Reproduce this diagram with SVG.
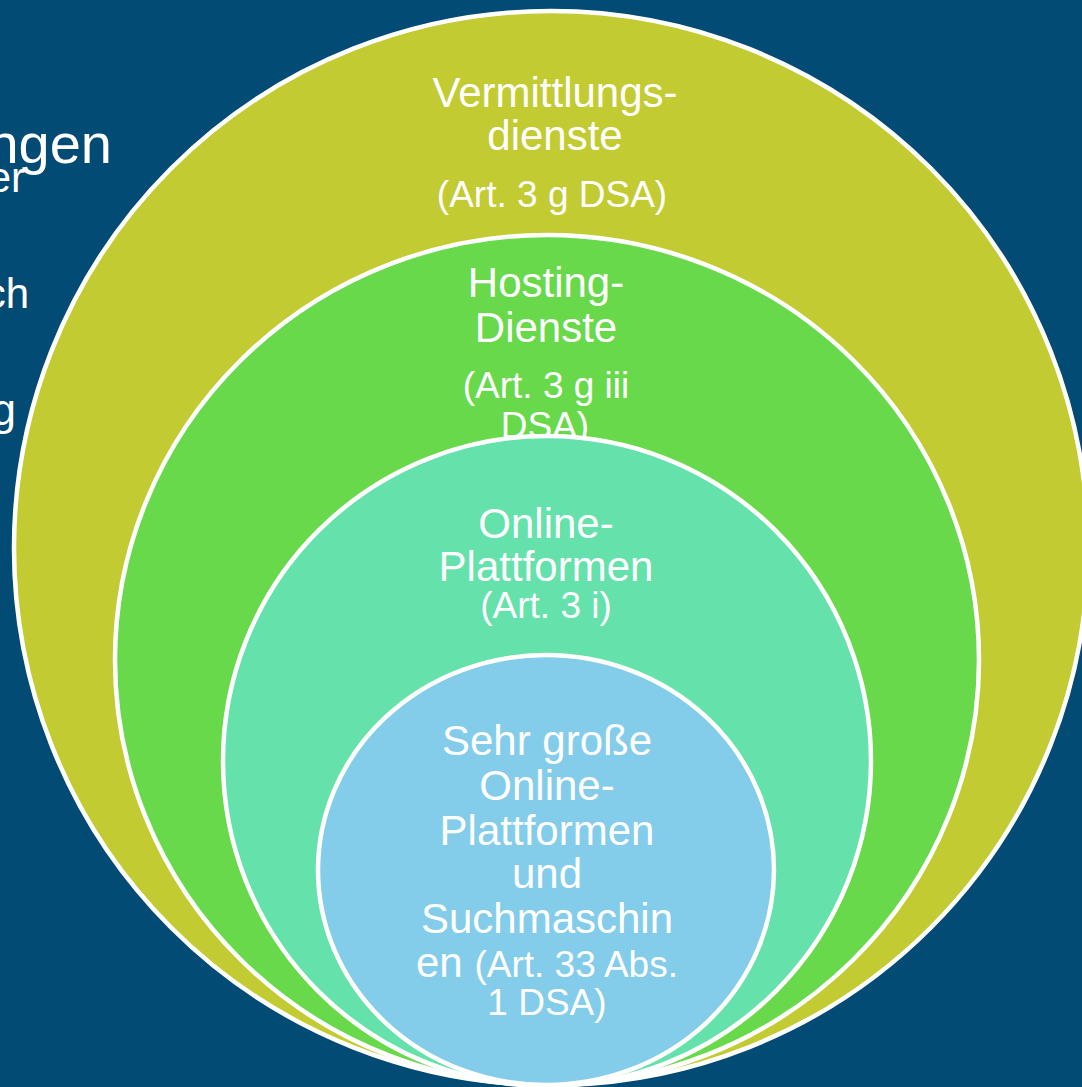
<svg xmlns="http://www.w3.org/2000/svg" width="1082" height="1087" viewBox="0 0 1082 1087">
  <style>
    .t { font-family: "Liberation Sans", Arial, sans-serif; fill: #ffffff; text-anchor: middle; }
    .big { font-size: 42px; }
    .small { font-size: 37px; }
    .side { font-family: "Liberation Sans", Arial, sans-serif; fill: #ffffff; text-anchor: end; }
    .ring { stroke: #ffffff; stroke-width: 4.5; }
  </style>
  <rect x="0" y="0" width="1082" height="1087" fill="#024b74"/>
  <g id="side-text">
    <text class="side" x="112" y="163" font-size="56">ngen</text>
    <text class="side" x="25" y="192" font-size="42">er</text>
    <text class="side" x="29" y="308" font-size="42">ch</text>
    <text class="side" x="16" y="425" font-size="44">g</text>
  </g>
  <g id="node-vermittlungsdienste">
    <circle class="ring" cx="551" cy="548" r="537" fill="#c3cb33"/>
    <text class="t big" x="555" y="107">Vermittlungs-</text>
    <text class="t big" x="555" y="150">dienste</text>
    <text class="t small" x="552" y="207">(Art. 3 g DSA)</text>
  </g>
  <g id="node-hosting">
    <ellipse class="ring" cx="547" cy="660" rx="432" ry="425" fill="#67d94b"/>
    <text class="t big" x="546" y="297">Hosting-</text>
    <text class="t big" x="546" y="342">Dienste</text>
    <text class="t small" x="546" y="398">(Art. 3 g iii</text>
    <text class="t small" x="545" y="438">DSA)</text>
  </g>
  <g id="node-online-plattformen">
    <ellipse class="ring" cx="547" cy="761" rx="324" ry="325" fill="#65e1ab"/>
    <text class="t big" x="546" y="538">Online-</text>
    <text class="t big" x="546" y="581">Plattformen</text>
    <text class="t small" x="546" y="618">(Art. 3 i)</text>
  </g>
  <g id="node-sehr-grosse">
    <ellipse class="ring" cx="546" cy="870" rx="228" ry="215" fill="#83cdeb"/>
    <text class="t big" x="547" y="755">Sehr große</text>
    <text class="t big" x="547" y="800">Online-</text>
    <text class="t big" x="547" y="845">Plattformen</text>
    <text class="t big" x="547" y="888">und</text>
    <text class="t big" x="547" y="933">Suchmaschin</text>
    <text class="t" x="547" y="977"><tspan font-size="42">en </tspan><tspan font-size="37">(Art. 33 Abs.</tspan></text>
    <text class="t small" x="547" y="1015">1 DSA)</text>
  </g>
  <g id="connectors"></g>
</svg>
